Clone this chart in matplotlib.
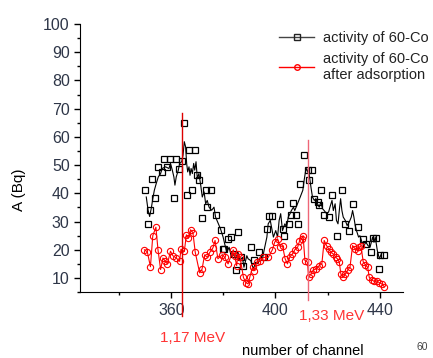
import matplotlib.pyplot as plt
from matplotlib.ticker import MultipleLocator

plt.rcParams['font.family'] = ['Liberation Sans', 'DejaVu Sans']

# black line (activity of 60-Co)
line_ch = [350.4, 351.1, 351.7, 352.4, 352.9, 353.5, 354.2, 355.0, 355.9, 356.5, 357.8, 359.1,
           359.7, 360.4, 361.0, 361.4, 361.9, 362.7, 363.2, 364.0, 364.5, 365.0, 365.5, 365.9,
           366.3, 366.8, 367.2, 367.6, 368.1, 368.6, 369.0, 369.5, 370.0, 370.6, 371.3, 371.9,
           372.6, 373.2, 373.8, 374.5, 375.5, 376.4, 377.0, 378.1, 378.9, 379.9, 380.5, 381.3,
           382.2, 383.1, 383.8, 384.7, 385.6, 386.4, 387.3, 387.9, 389.0, 389.5, 390.5, 391.5,
           392.4, 393.3, 394.1, 395.0, 395.6, 396.7, 397.2, 398.0, 398.5, 399.2, 400.1, 400.8,
           401.4, 402.0, 402.7, 403.6, 404.3, 404.9, 405.6, 406.1, 406.9, 407.4, 408.2, 408.7,
           409.5, 410.0, 410.5, 411.0, 411.5, 412.0, 412.6, 412.9, 413.6, 414.2, 414.9, 415.5,
           416.1, 416.8, 417.4, 418.1, 418.7, 419.6, 420.4, 420.9, 421.7, 422.2, 422.9, 423.4,
           424.0, 424.5, 425.0, 425.5, 426.0, 426.8, 427.5, 428.3, 429.1, 429.6, 430.1, 430.6,
           431.1, 431.9, 432.4, 433.2, 434.0, 434.7, 435.5, 436.3, 436.8, 437.3, 437.8, 438.3,
           439.1, 439.9, 440.6]
line_val = [38.7, 34.0, 31.8, 35.1, 38.1, 41.1, 43.4, 45.8, 47.0, 48.8, 49.4, 48.8,
            50.6, 48.2, 45.8, 42.9, 45.8, 48.2, 50.6, 51.2, 53.5, 58.3, 56.5, 50.6,
            47.6, 49.4, 46.4, 48.8, 47.0, 50.6, 48.2, 51.2, 45.2, 47.0, 42.9, 38.7,
            40.5, 36.3, 37.5, 35.1, 34.0, 35.1, 31.6, 29.2, 27.4, 24.5, 22.1, 19.1,
            20.9, 17.3, 18.5, 16.8, 19.1, 16.2, 17.3, 13.8, 17.9, 16.8, 16.2, 13.2,
            15.6, 15.0, 17.3, 16.8, 19.7, 24.5, 29.2, 30.4, 28.0, 24.5, 26.8, 24.5,
            30.4, 32.8, 26.8, 29.2, 28.0, 31.6, 32.8, 33.9, 35.1, 33.9, 35.7, 36.9,
            38.7, 39.9, 41.1, 44.6, 47.6, 48.8, 47.0, 47.0, 42.3, 38.7, 37.5, 38.1,
            36.3, 35.1, 36.9, 34.5, 33.9, 32.8, 33.4, 35.1, 37.5, 33.9, 36.3, 30.4,
            29.2, 33.9, 38.1, 33.9, 31.6, 30.4, 28.6, 29.8, 31.6, 33.9, 31.6, 28.6,
            26.8, 24.5, 25.0, 22.7, 21.5, 22.7, 21.5, 20.9, 22.7, 24.5, 22.7, 24.5,
            19.7, 16.8, 18.5]

# black squares
sq_ch = [350.1, 351.0, 351.7, 352.7, 353.9, 355.0, 356.5, 357.2, 358.5, 359.7, 361.0, 361.9,
         362.9, 364.2, 364.9, 366.2, 366.8, 368.1, 369.1, 370.0, 370.6, 371.9, 373.2, 373.8,
         375.1, 377.0, 379.0, 379.8, 380.2, 381.8, 382.8, 384.1, 384.7, 385.6, 386.7, 387.7,
         390.5, 391.8, 393.7, 395.6, 396.7, 397.5, 398.8, 401.8, 402.7, 403.3, 405.2, 405.9,
         406.9, 407.8, 408.7, 409.5, 411.0, 412.3, 412.9, 414.2, 414.8, 416.2, 416.8, 417.4,
         418.7, 420.6, 421.7, 423.8, 425.5, 426.8, 428.1, 429.6, 431.5, 433.5, 434.7, 436.6,
         437.3, 438.6, 439.6, 440.1, 441.8]
sq_val = [41.3, 29.2, 34.2, 45.2, 38.5, 49.4, 47.6, 52.3, 49.4, 52.3, 38.5, 52.0,
          48.8, 51.6, 65.0, 39.3, 55.3, 41.1, 55.3, 46.4, 44.6, 31.4, 41.1, 35.1,
          41.1, 32.3, 27.1, 20.3, 20.3, 23.9, 24.5, 18.5, 12.8, 26.2, 17.3, 14.4,
          21.1, 16.4, 19.1, 17.3, 27.4, 31.8, 31.8, 36.1, 27.4, 25.0, 29.2, 32.2,
          36.5, 32.2, 29.2, 43.2, 53.5, 48.2, 44.6, 48.2, 38.1, 36.9, 35.7, 41.3,
          32.2, 31.6, 39.3, 25.0, 41.3, 29.2, 26.8, 36.3, 28.0, 23.9, 22.1, 19.1,
          24.1, 24.1, 13.2, 18.3, 18.3]

# red series (after adsorption)
red_ch = [349.7, 350.8, 352.0, 352.9, 354.1, 354.9, 355.9, 356.8, 357.5, 358.5, 359.7, 360.6,
          361.9, 363.2, 363.7, 365.0, 365.8, 366.5, 367.4, 368.3, 369.2, 370.9, 371.8, 372.8,
          373.8, 374.8, 376.0, 376.8, 377.9, 379.6, 380.5, 381.8, 383.8, 384.3, 385.1, 385.6,
          386.4, 387.7, 388.6, 389.5, 390.2, 391.2, 391.8, 392.8, 394.1, 395.4, 397.2, 398.8,
          399.7, 400.8, 401.8, 402.7, 403.7, 404.6, 405.6, 406.5, 407.4, 408.5, 409.2, 410.0,
          410.6, 411.3, 412.3, 412.7, 413.6, 414.5, 415.5, 416.8, 417.8, 418.7, 419.6, 420.4,
          421.3, 422.2, 423.2, 423.8, 424.5, 425.1, 425.8, 426.8, 427.7, 428.6, 429.6, 430.6,
          431.5, 432.2, 432.8, 433.7, 434.5, 435.4, 436.0, 437.0, 437.9, 438.8, 439.8, 440.8,
          441.8]
red_val = [20.0, 19.3, 14.0, 25.0, 28.0, 20.0, 13.0, 17.1, 16.2, 15.0, 19.5, 17.9,
           17.1, 15.9, 20.2, 19.4, 25.3, 24.1, 27.1, 26.1, 19.1, 11.8, 13.1, 18.2,
           17.3, 19.1, 20.7, 23.3, 16.8, 18.3, 17.3, 15.0, 20.0, 17.9, 14.4, 18.5,
           17.3, 10.2, 8.4, 7.9, 10.5, 13.8, 12.6, 15.6, 15.9, 17.3, 17.3, 20.0,
           22.7, 23.9, 21.1, 21.4, 16.8, 15.0, 17.6, 18.5, 20.0, 20.9, 23.0, 23.9,
           25.0, 16.2, 15.6, 10.2, 11.4, 12.8, 13.2, 14.4, 15.0, 23.3, 21.5, 20.3,
           19.1, 18.5, 17.3, 16.8, 15.6, 11.4, 10.2, 11.4, 12.8, 13.8, 21.5, 20.3,
           19.7, 20.9, 21.5, 15.6, 14.7, 13.8, 10.2, 9.3, 8.8, 9.0, 8.4, 7.9,
           6.9]

peak_ch = [364, 412.6]
peak_top = [68.5, 59]
peak_labels = ['1,17 MeV', '1,33 MeV']

fig = plt.figure(figsize=(4.33, 3.58), dpi=100)
ax = fig.add_axes([0.185, 0.184, 0.746, 0.749])

ax.plot(line_ch, line_val, color='black', lw=0.8, zorder=3)
ax.plot(sq_ch, sq_val, ls='none', marker='s', ms=4.5, mfc='none', mec='black', mew=0.9, zorder=3)
ax.plot(red_ch, red_val, color='red', lw=0.8, marker='o', ms=4.5, mfc='none', mec='red', mew=0.8, zorder=3)

# legend proxies
h1, = ax.plot([], [], color='#444444', lw=1.0, marker='s', ms=4, mfc='none', mec='#222222')
h2, = ax.plot([], [], color='red', lw=1.0, marker='o', ms=4, mfc='none', mec='red')
ax.legend([h1, h2], ['activity of 60-Co', 'activity of 60-Co\nafter adsorption'],
          loc='upper left', bbox_to_anchor=(0.615, 0.95), bbox_transform=fig.transFigure,
          frameon=False, fontsize=10.5, handlelength=2.4, handletextpad=0.6,
          labelspacing=0.45, numpoints=1, labelcolor='#222222')

ax.set_xlim(325, 449)
ax.set_ylim(5, 100)
ax.spines['top'].set_visible(False)
ax.spines['right'].set_visible(False)
ax.xaxis.set_minor_locator(MultipleLocator(20))
ax.set_xticks([360, 400, 440])
ax.set_yticks(range(10, 101, 10))
ax.yaxis.set_minor_locator(MultipleLocator(5))
ax.tick_params(direction='out', length=4, width=1, labelsize=11.5, labelcolor='#2e3648')
ax.tick_params(which='minor', direction='out', length=2.5, width=1)

# energy lines + labels
cols = ['#dd0000', '#ee6677']
ends = [-0.09, -0.03]
for ch, top, c, e in zip(peak_ch, peak_top, cols, ends):
    ax.plot([ch, ch], [top, 5 + e * 95], color=c, lw=1.0, clip_on=False, zorder=4)
ax.text(368, -0.17, peak_labels[0], color='#ff3333', fontsize=11, ha='center', va='center',
        transform=ax.get_xaxis_transform())
ax.text(421.5, -0.09, peak_labels[1], color='#ff3333', fontsize=11, ha='center', va='center',
        transform=ax.get_xaxis_transform())

fig.text(0.70, 0.02, 'number of channel', fontsize=10.5, ha='center', va='center')
fig.text(0.045, 0.47, 'A (Bq)', fontsize=11, rotation=90, ha='center', va='center')
fig.text(0.975, 0.03, '60', fontsize=7.5, color='#444444', ha='center', va='center')

fig.savefig('out.png', dpi=100)
